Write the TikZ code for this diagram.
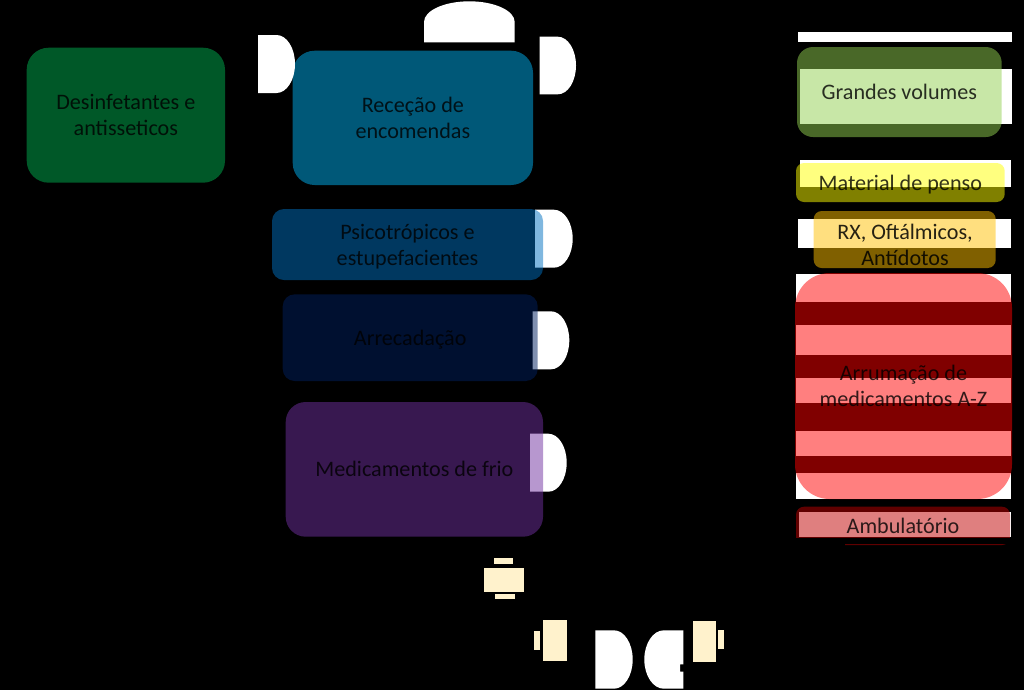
\documentclass[tikz,border=0pt]{standalone}
\usepackage{fontspec}
\setmainfont{Carlito}
\definecolor{ground}{HTML}{000000}
\definecolor{sheet}{HTML}{FFFFFF}
\definecolor{cream}{HTML}{FFF2CC}
\definecolor{disinfect}{HTML}{00B050}
\definecolor{reception}{HTML}{00B0F0}
\definecolor{psycho}{HTML}{0070C0}
\definecolor{storage}{HTML}{002060}
\definecolor{cold}{HTML}{7030A0}
\definecolor{volumes}{HTML}{92D050}
\definecolor{dressing}{HTML}{FFFF00}
\definecolor{eyes}{HTML}{FFC000}
\definecolor{shelves}{HTML}{FF0000}
\definecolor{outpatient}{HTML}{C00000}

\begin{document}
\begin{tikzpicture}[x=.75pt,y=-.75pt,
  every node/.style={text=black,font=\fontsize{16.6}{19.5}\selectfont,inner sep=0pt},
  panel/.style={fill opacity=.5,text opacity=.8,align=center},
  lowered/.style={text depth=0pt},
  sheetrow/.style={fill=sheet},
  creamrow/.style={fill=cream}]
\def\px{.75pt}

% -------------------------------------------------------------------------
% Page and the pale shapes that show through the panels.
% -------------------------------------------------------------------------
\fill[ground] (0,0) rectangle (1024,690);
\useasboundingbox (0,0) rectangle (1024,690);

% Shapes with a round right side: left edge, top edge, width, height.
\foreach \x/\y/\w/\h in {539.7/36.7/36.3/57.6, 535/209.7/37.7/58,
    532.7/311.3/36.6/58, 530/433.7/36.7/58, 595.3/630.3/37.4/58.4}
  \fill[sheetrow] (\x,\y) -- ++(\w/2,0)
    arc[start angle=-90,end angle=90,x radius=\w/2,y radius=\h/2]
    -- ++(-\w/2,0) -- cycle;

% Round top, and round left side with its small notch.
\fill[sheetrow] (424,42.3) -- (424,22) arc[start angle=180,end angle=360,x radius=45.35,y radius=20.7]
  -- (514.7,42.3) -- cycle;
\fill[sheetrow] (683.3,630.3) -- (663.8,630.3)
  arc[start angle=-90,end angle=-270,x radius=19.5,y radius=29.2]
  -- (683.3,688.7) -- (683.3,671.7) -- (680,671.7) -- (680,664.3) -- (683.3,664.3) -- cycle;

% Bars behind the right column: left, top, right, bottom.
\foreach \l/\t/\r/\b in {798/32/1011.7/41.7, 800/68.7/1011.7/124, 800/160/1011/187,
    798/218.7/1011/248, 796/274/1011/302, 796/325/1011/355, 796/378/1011/403,
    796/431/1011/456, 796/473/1011/498.7, 799/511.7/1010.7/537}
  \fill[sheetrow] (\l,\t) rectangle (\r,\b);

% Cream blocks below the middle column.
\foreach \l/\t/\r/\b in {483.7/568.3/523.7/591.7, 494/557.7/513.3/563.7, 494.7/593.7/514.7/599.3,
    543.3/620/566.7/660.7, 534.3/630.7/540.3/649.7,
    693.3/621/716.3/661.7, 718.3/629.7/724.3/649.3}
  \fill[creamrow] (\l,\t) rectangle (\r,\b);

% -------------------------------------------------------------------------
% Left and middle column.
% -------------------------------------------------------------------------
\node[panel,lowered,fill=disinfect,rounded corners=16.5pt,minimum width=198.3*\px,minimum height=135*\px]
  (desinfetantes) at (125.85,115.2) {Desinfetantes e\\antisseticos};
\node[panel,fill=reception,rounded corners=16.5pt,minimum width=240.3*\px,minimum height=134.3*\px]
  (rececao) at (412.85,117.85) {Receção de\\encomendas};
\node[panel,lowered,fill=psycho,rounded corners=9pt,minimum width=271*\px,minimum height=71*\px]
  (psicotropicos) at (407.5,244.5) {Psicotrópicos e\\estupefacientes};
\node[panel,lowered,fill=storage,rounded corners=9pt,minimum width=255*\px,minimum height=86.7*\px]
  (arrecadacao) at (410.2,337.65) {Arrecadação};
\node[panel,fill=cold,rounded corners=15pt,minimum width=257.3*\px,minimum height=134.7*\px]
  (frio) at (414.35,469.35) {Medicamentos de frio};

% This one stands in front of the reception panel.
\fill[sheetrow] (258,35) -- (276.5,35)
  arc[start angle=-90,end angle=90,x radius=18.5,y radius=29] -- (258,93) -- cycle;

% -------------------------------------------------------------------------
% Right column.
% -------------------------------------------------------------------------
\node[panel,lowered,fill=volumes,rounded corners=12pt,minimum width=204.7*\px,minimum height=90*\px]
  (volumes) at (899.35,92) {Grandes volumes};
\node[panel,lowered,fill=dressing,rounded corners=6pt,minimum width=208.7*\px,minimum height=39*\px]
  (penso) at (900.35,182.5) {Material de penso};
\node[panel,fill=eyes,rounded corners=6pt,minimum width=182*\px,minimum height=57*\px]
  (oftalmicos) at (904.7,239.5) {};
\node[text opacity=.85,align=center] (oftalmicoslabel) at (905,245) {RX, Oftálmicos,\\Antídotos};
\node[panel,fill=shelves,rounded corners=26pt,minimum width=217*\px,minimum height=226*\px]
  (arrumacao) at (903.5,386) {Arrumação de\\medicamentos A-Z};
\node[panel,fill=outpatient,rounded corners=6pt,minimum width=214*\px,minimum height=38.3*\px]
  (ambulatorio) at (903,525.85) {Ambulatório};

% Lower edge of the last panel is cut away, a thin line is left.
\fill[ground] (790,537.5) rectangle (1016,544.3);
\fill[ground] (790,544) rectangle (845,547);
\end{tikzpicture}
\end{document}
